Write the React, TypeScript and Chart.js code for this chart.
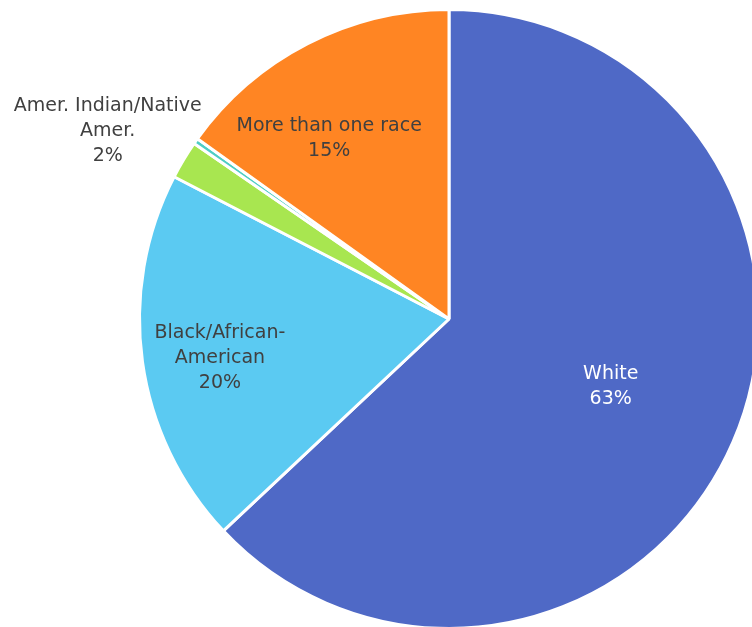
import React, { useEffect, useRef } from "react";
import { Chart, registerables } from "chart.js";

Chart.register(...registerables);

// slices, clockwise from 12 o'clock
const categories = [
  "White",
  "Black/African-American",
  "Amer. Indian/Native Amer.",
  "Native Hawaiian/Pacific Islander",
  "More than one race",
];
const shares = [63.0, 19.6, 2.0, 0.3, 15.1];
const labelLines = [
  ["White"],
  ["Black/African-", "American"],
  ["Amer. Indian/Native", "Amer."],
  [],
  ["More than one race"],
];

const colors = ["#4F69C6", "#5BCAF2", "#A8E650", "#4ECDC4", "#FF8523"];
const textColors = ["#ffffff", "#404040", "#404040", "#404040", "#404040"];
// where each label sits: fraction of radius + angle nudge (deg)
const placement = [
  { frac: 0.566, turn: -0.8 },
  { frac: 0.751, turn: -1.8 },
  { frac: 1.259, turn: -2.1 },
  { frac: 0, turn: 0 },
  { frac: 0.7, turn: -6.4 },
];

const sliceLabels = {
  id: "sliceLabels",
  afterDatasetsDraw(chart: any) {
    const ctx = chart.ctx;
    const meta = chart.getDatasetMeta(0);
    const total = shares.reduce((a, b) => a + b, 0);
    ctx.save();
    ctx.font = "19px 'DejaVu Sans'";
    ctx.textAlign = "center";
    ctx.textBaseline = "middle";
    meta.data.forEach((arc: any, i: number) => {
      if (!labelLines[i].length) return;
      const { x, y, startAngle, endAngle, outerRadius } = arc.getProps(
        ["x", "y", "startAngle", "endAngle", "outerRadius"],
        true
      );
      const ang = (startAngle + endAngle) / 2 + (placement[i].turn * Math.PI) / 180;
      const r = outerRadius * placement[i].frac;
      const px = x + Math.cos(ang) * r;
      const py = y + Math.sin(ang) * r;
      const lines = [...labelLines[i], Math.round((shares[i] / total) * 100) + "%"];
      const lh = 25;
      ctx.fillStyle = textColors[i];
      lines.forEach((t, k) => {
        ctx.fillText(t, px, py + (k - (lines.length - 1) / 2) * lh);
      });
    });
    ctx.restore();
  },
};

export default function App() {
  const canvasRef = useRef<HTMLCanvasElement>(null);

  useEffect(() => {
    document.body.style.margin = "0";
    document.body.style.overflow = "hidden";
    if (!canvasRef.current) return;
    const chart = new Chart(canvasRef.current, {
      type: "pie",
      data: {
        labels: categories,
        datasets: [
          {
            data: shares,
            backgroundColor: colors,
            borderColor: "#ffffff",
            borderWidth: 3,
          },
        ],
      },
      options: {
        animation: false,
        responsive: true,
        maintainAspectRatio: false,
        layout: { padding: 8 },
        plugins: {
          legend: { display: false },
          tooltip: { enabled: false },
        },
      },
      plugins: [sliceLabels],
    });
    return () => {
      chart.destroy();
    };
  }, []);

  return (
    <div style={{ position: "relative", width: 898, height: 638 }}>
      <canvas ref={canvasRef} />
    </div>
  );
}
